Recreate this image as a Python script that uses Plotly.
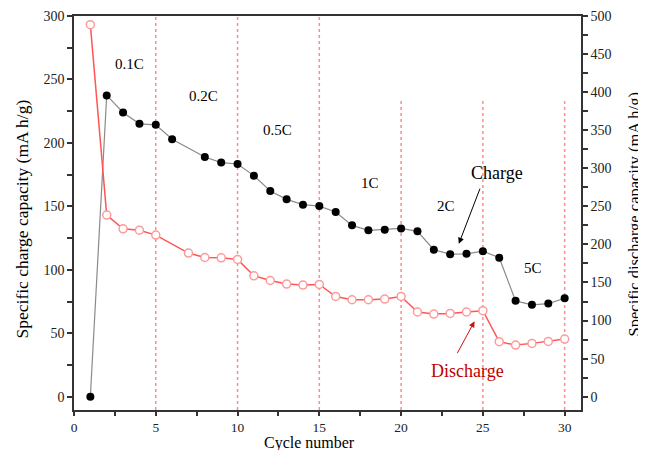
import plotly.graph_objects as go

# ---- data ----
charge_cycles = [1, 2, 3, 4, 5, 6, 8, 9, 10, 11, 12, 13, 14, 15, 16, 17, 18, 19, 20,
                 21, 22, 23, 24, 25, 26, 27, 28, 29, 30]
charge_capacity = [0, 237.4, 224.0, 215.0, 214.2, 202.9, 188.9, 184.5, 183.4, 174.2,
                   162.1, 155.5, 151.3, 150.2, 145.5, 135.0, 131.1, 131.6, 132.6, 130.3,
                   115.8, 112.3, 112.6, 114.7, 109.5, 75.5, 72.4, 73.4, 77.6]

discharge_cycles = [1, 2, 3, 4, 5, 7, 8, 9, 10, 11, 12, 13, 14, 15, 16, 17, 18, 19, 20,
                    21, 22, 23, 24, 25, 26, 27, 28, 29, 30]
discharge_capacity = [488.6, 238.6, 220.5, 218.7, 212.2, 188.6, 182.8, 182.4, 180.2,
                      158.8, 152.6, 147.9, 146.6, 147.4, 131.6, 127.3, 127.3, 128.2, 131.6,
                      111.2, 108.5, 109.3, 111.2, 112.9, 72.2, 67.8, 70.0, 72.6, 75.7]

rate_boundaries = [5, 10, 15, 20, 25, 30]
boundary_tops = [300, 300, 300, 233.7, 233.7, 233.7]

rate_labels = ["0.1C", "0.2C", "0.5C", "1C", "2C", "5C"]
rate_label_x = [3.39, 7.92, 12.45, 18.08, 22.72, 28.09]
rate_label_y = [262.1, 236.9, 210.5, 168.4, 150.2, 101.3]

FONT = "Liberation Serif"

fig = go.Figure()

fig.add_trace(go.Scatter(
    x=charge_cycles, y=charge_capacity, mode="lines+markers", name="Charge",
    line=dict(color="#8a8a8a", width=1.2),
    marker=dict(size=8, color="black", line=dict(width=0)),
    yaxis="y", showlegend=False))

fig.add_trace(go.Scatter(
    x=discharge_cycles, y=discharge_capacity, mode="lines+markers", name="Discharge",
    line=dict(color="#ff5555", width=1.5),
    marker=dict(size=8, color="white", line=dict(color="#ff9a9a", width=1.5)),
    yaxis="y2", showlegend=False))

shapes = []
for bx, top in zip(rate_boundaries, boundary_tops):
    shapes.append(dict(type="line", xref="x", yref="y", x0=bx, x1=bx, y0=-10.5, y1=top,
                       line=dict(color="#ff8c8c", width=1.5, dash="dot"), layer="below"))

annotations = []
for t, ax_, ay_ in zip(rate_labels, rate_label_x, rate_label_y):
    annotations.append(dict(x=ax_, y=ay_, xref="x", yref="y", text=t, showarrow=False,
                            font=dict(family=FONT, size=15, color="black")))

# Charge label and arrow
annotations.append(dict(x=25.88, y=176.6, xref="x", yref="y", text="Charge", showarrow=False,
                        font=dict(family=FONT, size=18, color="black")))
annotations.append(dict(x=23.53, y=120.5, xref="x", yref="y", text="", showarrow=True,
                        ax=21.7, ay=-56.6, arrowhead=2, arrowsize=1.2, arrowwidth=1,
                        arrowcolor="black"))
# Discharge label and arrow
annotations.append(dict(x=24.05, y=20.5, xref="x", yref="y", text="Discharge", showarrow=False,
                        font=dict(family=FONT, size=18, color="#c00000")))
annotations.append(dict(x=24.49, y=59.4, xref="x", yref="y", text="", showarrow=True,
                        ax=-18, ay=33.3, arrowhead=2, arrowsize=1.2, arrowwidth=1,
                        arrowcolor="#cc1111"))

# Axis titles (placed explicitly)
annotations.append(dict(x=0.465, y=-0.083, xref="paper", yref="paper", text="Cycle number",
                        showarrow=False, xanchor="center", yanchor="middle",
                        font=dict(family=FONT, size=16, color="black")))
annotations.append(dict(x=-0.1026, y=0.486, xref="paper", yref="paper",
                        text="Specific charge capacity (mA h/g)", textangle=-90,
                        showarrow=False, xanchor="center", yanchor="middle",
                        font=dict(family=FONT, size=17.5, color="black")))
annotations.append(dict(x=1.105, y=0.497, xref="paper", yref="paper",
                        text="Specific discharge capacity (mA h/g)", textangle=-90,
                        showarrow=False, xanchor="center", yanchor="middle",
                        font=dict(family=FONT, size=16.5, color="black")))

axis_common = dict(showgrid=False, zeroline=False, showline=True, linecolor="#333333",
                   linewidth=1.5, ticks="outside", tickcolor="#333333", tickwidth=1.5,
                   automargin=False)
tick_font = dict(family=FONT, size=14, color="#222222")

# page body has an 8px margin, so the figure is sized to the visible area
fig.update_layout(
    width=638, height=442,
    margin=dict(l=66, r=65, t=8, b=40),
    paper_bgcolor="white", plot_bgcolor="white",
    shapes=shapes, annotations=annotations,
    xaxis=dict(range=[0, 31], tick0=0, dtick=5, ticklen=4, mirror=True,
               tickfont=dict(family=FONT, size=13.5, color="#222222"),
               minor=dict(dtick=2.5, ticks="outside", ticklen=4, tickcolor="#333333"),
               **axis_common),
    yaxis=dict(range=[-10.5, 300], tick0=0, dtick=50, ticklen=5, tickfont=tick_font,
               minor=dict(dtick=25, ticks="outside", ticklen=5, tickcolor="#333333"),
               **axis_common),
    yaxis2=dict(range=[-17.5, 500], tick0=0, dtick=50, ticklen=5, overlaying="y", side="right",
                tickfont=tick_font,
                minor=dict(dtick=25, ticks="outside", ticklen=5, tickcolor="#333333"),
                **axis_common),
)

fig.write_html("out.html")
